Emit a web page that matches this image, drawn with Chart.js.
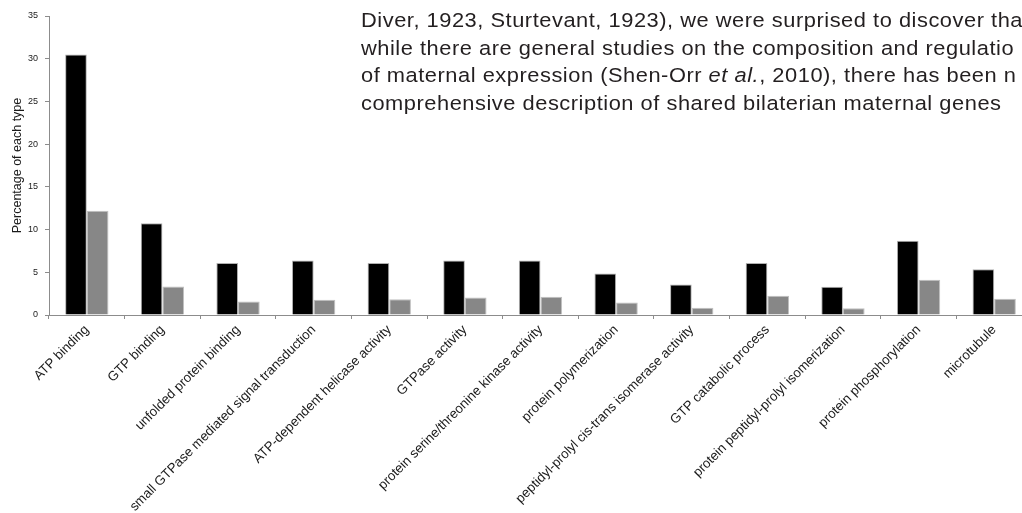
<!DOCTYPE html>
<html>
<head>
<meta charset="utf-8">
<script src="https://cdn.jsdelivr.net/npm/chart.js@4/dist/chart.umd.min.js"></script>
<style>
  html, body { margin: 0; padding: 0; background: #fff; overflow: hidden; width: 1022px; height: 513px; }
  #wrap { position: absolute; left: 0; top: 0; width: 1040px; height: 513px; }
  #overlay { position: absolute; left: 361px; top: 0; width: 800px; font-family: "Liberation Sans", Arial, sans-serif; font-size: 20.5px; line-height: 1; letter-spacing: 0.5px; color: #231f20; white-space: nowrap; transform: scaleX(1.065); transform-origin: 0 0; }
  #overlay div { position: absolute; left: 0; }
</style>
</head>
<body>
<div id="wrap"><canvas id="c" width="1040" height="513"></canvas></div>
<div id="overlay">
  <div style="top:10.4px">Diver, 1923, Sturtevant, 1923), we were surprised to discover tha</div>
  <div style="top:37.7px">while there are general studies on the composition and regulatio</div>
  <div style="top:64.7px">of maternal expression (Shen-Orr <i>et al.</i>, 2010), there has been n</div>
  <div style="top:92.7px">comprehensive description of shared bilaterian maternal genes</div>
</div>
<script>
const categories = [
  "ATP binding",
  "GTP binding",
  "unfolded protein binding",
  "small GTPase mediated signal transduction",
  "ATP-dependent helicase activity",
  "GTPase activity",
  "protein serine/threonine kinase activity",
  "protein polymerization",
  "peptidyl-prolyl cis-trans isomerase activity",
  "GTP catabolic process",
  "protein peptidyl-prolyl isomerization",
  "protein phosphorylation",
  "microtubule"
];
const seriesBlack = [30.5, 10.75, 6.1, 6.38, 6.1, 6.38, 6.38, 4.86, 3.57, 6.1, 3.3, 8.68, 5.36];
const seriesGrey  = [12.2, 3.34, 1.58, 1.78, 1.85, 2.05, 2.13, 1.46, 0.84, 2.25, 0.8, 4.12, 1.9];
const yTicks = [0, 5, 10, 15, 20, 25, 30, 35];

const axisColor = '#8c8c8c';
new Chart(document.getElementById('c'), {
  type: 'bar',
  data: {
    labels: categories,
    datasets: [
      { data: seriesBlack, backgroundColor: '#000000', borderColor: '#b0b0b0', borderWidth: 1, categoryPercentage: 0.573, barPercentage: 1 },
      { data: seriesGrey, backgroundColor: '#878787', borderColor: '#c0c0c0', borderWidth: 1, categoryPercentage: 0.573, barPercentage: 1 }
    ]
  },
  options: {
    responsive: false,
    animation: false,
    layout: { padding: { top: 16, right: 8, left: 0, bottom: 0 } },
    plugins: { legend: { display: false }, tooltip: { enabled: false } },
    scales: {
      x: {
        grid: { display: true, drawOnChartArea: false, drawTicks: true, tickLength: 4, color: axisColor, offset: true },
        border: { display: true, color: axisColor },
        ticks: {
          autoSkip: false, minRotation: 45, maxRotation: 45, padding: 3,
          color: '#1a1a1a', font: { family: '"Liberation Sans", Arial, sans-serif', size: 13.3 }
        },
        afterFit: (s) => { s.height = 198; }
      },
      y: {
        min: 0, max: 35,
        afterBuildTicks: (s) => { s.ticks = yTicks.map(v => ({ value: v })); },
        grid: { display: true, drawOnChartArea: false, drawTicks: true, tickLength: 4, color: axisColor },
        border: { display: true, color: axisColor },
        ticks: { padding: 7, color: '#1a1a1a', font: { family: '"Liberation Sans", Arial, sans-serif', size: 9 } },
        title: { display: true, text: 'Percentage of each type', color: '#1a1a1a', padding: { top: 10, bottom: 0 }, font: { family: '"Liberation Sans", Arial, sans-serif', size: 12.5 } },
        afterFit: (s) => { s.width = 49; }
      }
    }
  }
});
</script>
</body>
</html>
